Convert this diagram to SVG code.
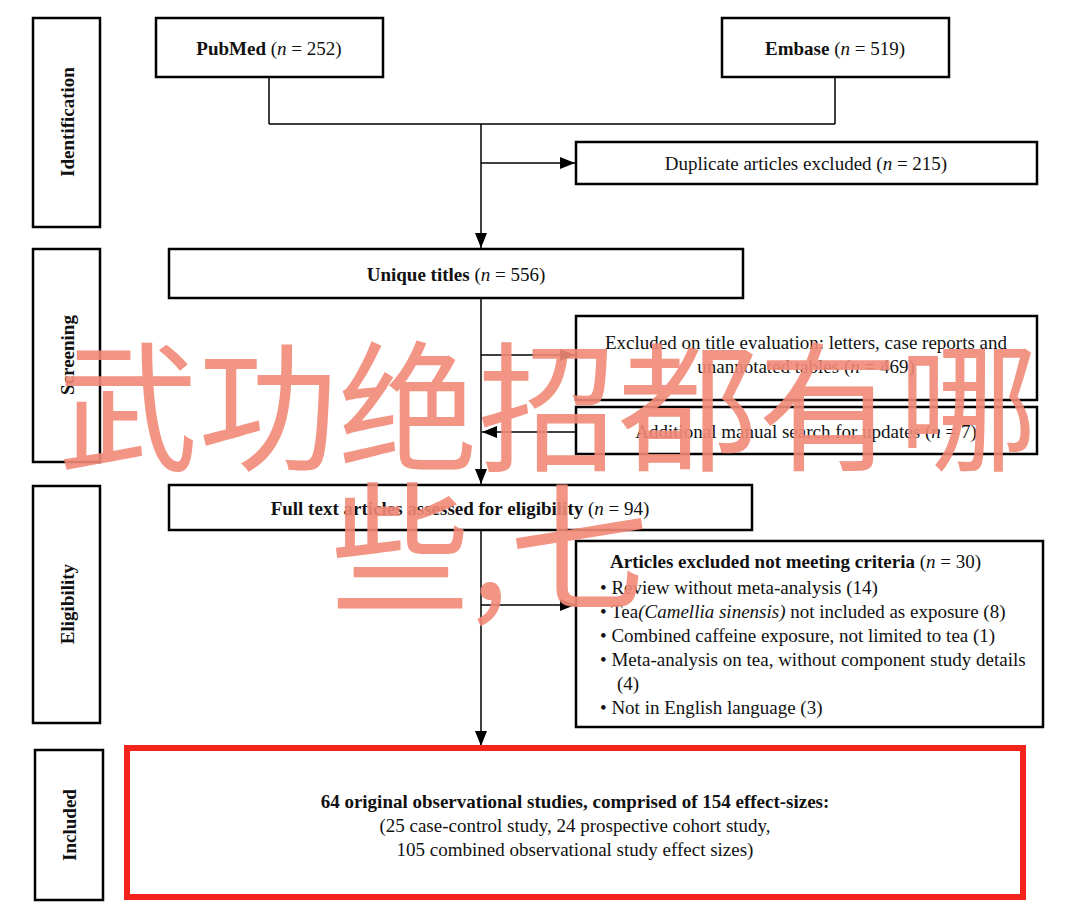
<svg xmlns="http://www.w3.org/2000/svg" width="1080" height="915" viewBox="0 0 1080 915">
<style>
.b{fill:#fff;stroke:#000;stroke-width:2.5}
.t{font-family:"Liberation Serif",serif;font-size:19px;fill:#111}
.c{text-anchor:middle}
.bold{font-weight:bold}
.l{stroke:#000;stroke-width:1.5;fill:none}
.wm{font-family:"Noto Sans CJK SC",sans-serif;font-size:140px;fill:#f28a78;opacity:0.9}
</style>
<defs><marker id="a" markerWidth="15" markerHeight="12" refX="15" refY="6" orient="auto" markerUnits="userSpaceOnUse"><path d="M0,0L15,6L0,12z" fill="#000"/></marker></defs>
<rect width="1080" height="915" fill="#fff"/>
<g id="stages">
<rect class="b" x="33" y="18" width="67" height="209"/><text class="t c bold" transform="translate(74,122) rotate(-90)">Identification</text>
<rect class="b" x="33" y="249" width="67" height="213"/><text class="t c bold" transform="translate(74,355) rotate(-90)">Screening</text>
<rect class="b" x="33" y="486" width="67" height="237"/><text class="t c bold" transform="translate(74,604) rotate(-90)">Eligibility</text>
<rect class="b" x="35" y="750" width="68" height="150"/><text class="t c bold" transform="translate(76,825) rotate(-90)">Included</text>
</g>
<g id="connectors">
<path class="l" d="M269,77V124M835,77V124M269,124H835"/>
<path class="l" d="M481,124V248" marker-end="url(#a)"/>
<path class="l" d="M481,163H575" marker-end="url(#a)"/>
<path class="l" d="M481,298V484" marker-end="url(#a)"/>
<path class="l" d="M481,355H575" marker-end="url(#a)"/>
<path class="l" d="M576,432H482" marker-end="url(#a)"/>
<path class="l" d="M481,530V746" marker-end="url(#a)"/>
<path class="l" d="M481,605H575" marker-end="url(#a)"/>
</g>
<g id="pubmed"><rect class="b" x="156" y="18" width="227" height="59"/><text class="t c" x="269" y="55"><tspan class="bold">PubMed</tspan> (<tspan font-style="italic">n</tspan> = 252)</text></g>
<g id="embase"><rect class="b" x="722" y="18" width="227" height="59"/><text class="t c" x="835" y="55"><tspan class="bold">Embase</tspan> (<tspan font-style="italic">n</tspan> = 519)</text></g>
<g id="duplicate"><rect class="b" x="576" y="142" width="461" height="42"/><text class="t c" x="806" y="170">Duplicate articles excluded (<tspan font-style="italic">n</tspan> = 215)</text></g>
<g id="unique"><rect class="b" x="169" y="249" width="574" height="49"/><text class="t c" x="456" y="281"><tspan class="bold">Unique titles</tspan> (<tspan font-style="italic">n</tspan> = 556)</text></g>
<g id="excluded-title"><rect class="b" x="576" y="316" width="461" height="84"/><text class="t c" x="806" y="349">Excluded on title evaluation: letters, case reports and</text><text class="t c" x="806" y="373">unannotated tables (<tspan font-style="italic">n</tspan> = 469)</text></g>
<g id="additional"><rect class="b" x="576" y="407" width="461" height="47"/><text class="t c" x="806" y="438">Additional manual search for updates (<tspan font-style="italic">n</tspan> = 7)</text></g>
<g id="fulltext"><rect class="b" x="169" y="485" width="583" height="45"/><text class="t c" x="460" y="515"><tspan class="bold">Full text articles assessed for eligibility</tspan> (<tspan font-style="italic">n</tspan> = 94)</text></g>
<g id="criteria"><rect class="b" x="576" y="541" width="467" height="186"/>
<text class="t" x="610" y="568"><tspan class="bold">Articles excluded not meeting criteria</tspan> (<tspan font-style="italic">n</tspan> = 30)</text>
<text class="t" font-size="17" x="600" y="594">•  Review without meta-analysis (14)</text>
<text class="t" font-size="17" x="600" y="618">•  Tea<tspan font-style="italic">(Camellia sinensis)</tspan> not included as exposure (8)</text>
<text class="t" font-size="17" x="600" y="642">•  Combined caffeine exposure, not limited to tea (1)</text>
<text class="t" font-size="17" x="600" y="666">•  Meta-analysis on tea, without component study details</text>
<text class="t" font-size="17" x="617" y="690">(4)</text>
<text class="t" font-size="17" x="600" y="714">•  Not in English language (3)</text>
</g>
<g id="included"><rect x="127" y="748" width="896" height="149" fill="#fff" stroke="#f3241c" stroke-width="6"/>
<text class="t c bold" x="575" y="808">64 original observational studies, comprised of 154 effect-sizes:</text>
<text class="t c" x="575" y="832">(25 case-control study, 24 prospective cohort study,</text>
<text class="t c" x="575" y="856">105 combined observational study effect sizes)</text>
</g>
<g id="watermark"><text class="wm" x="58" y="460">武功绝招都有哪</text><text class="wm" x="330" y="600">些,七</text></g>
</svg>
